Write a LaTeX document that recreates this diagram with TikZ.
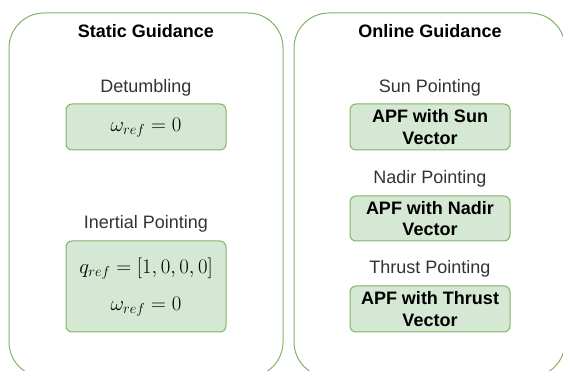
\documentclass[tikz,border=0pt]{standalone}
\usepackage{fontspec}
\setmainfont{Liberation Sans}
\usepackage{amsmath}
\definecolor{gfill}{HTML}{D5E8D4}
\definecolor{gline}{HTML}{82B366}
\definecolor{txt}{HTML}{333333}
\begin{document}
\begin{tikzpicture}[x=1pt,y=-1pt,
  outer/.style={draw=gline, line width=1pt, rounded corners=35pt, fill=white, inner sep=0pt},
  inbox/.style={draw=gline, fill=gfill, line width=1pt, rounded corners=6pt, inner sep=0pt, minimum width=160pt},
  title/.style={font=\fontsize{18}{21}\selectfont\bfseries, inner sep=0pt},
  lbl/.style={font=\fontsize{18}{21}\selectfont, text=txt, inner sep=0pt},
  mth/.style={font=\fontsize{21.5}{25}\selectfont, inner sep=0pt},
  boxtext/.style={font=\fontsize{18}{21.5}\selectfont\bfseries, align=center, inner sep=0pt}]
\useasboundingbox (0,0) rectangle (563,371);
\clip (0,0) rectangle (563,371);
% outer containers
\node[outer, minimum width=274pt, minimum height=364pt] (static) at (146,195) {};
\node[outer, minimum width=271pt, minimum height=364pt] (online) at (429.5,195) {};
\node[title] (stitle) at (146,31) {Static Guidance};
\node[title] (otitle) at (430,31) {Online Guidance};
% static guidance
\node[lbl] (detl) at (146,88) {Detumbling};
\node[inbox, minimum height=46pt] (detbox) at (146,127) {};
\node[mth] (detm) at (146,128) {$\omega_{ref}=0$};
\node[lbl] (inl) at (146,224) {Inertial Pointing};
\node[inbox, minimum height=91pt] (inbox) at (146,286.5) {};
\node[mth] (inq) at (146,269) {$q_{ref}=[1,0,0,0]$};
\node[mth] (inw) at (146,307) {$\omega_{ref}=0$};
% online guidance
\node[lbl] (sunl) at (430,88) {Sun Pointing};
\node[inbox, minimum height=46pt] (sunbox) at (430,127) {};
\node[boxtext] (sunt) at (430,127) {APF with Sun\\Vector};
\node[lbl] (nadl) at (430,179) {Nadir Pointing};
\node[inbox, minimum height=45pt] (nadbox) at (430,218.5) {};
\node[boxtext] (nadt) at (430,218.5) {APF with Nadir\\Vector};
\node[lbl] (thrl) at (430,269) {Thrust Pointing};
\node[inbox, minimum height=46pt] (thrbox) at (430,309) {};
\node[boxtext] (thrt) at (430,309) {APF with Thrust\\Vector};
\end{tikzpicture}
\end{document}
